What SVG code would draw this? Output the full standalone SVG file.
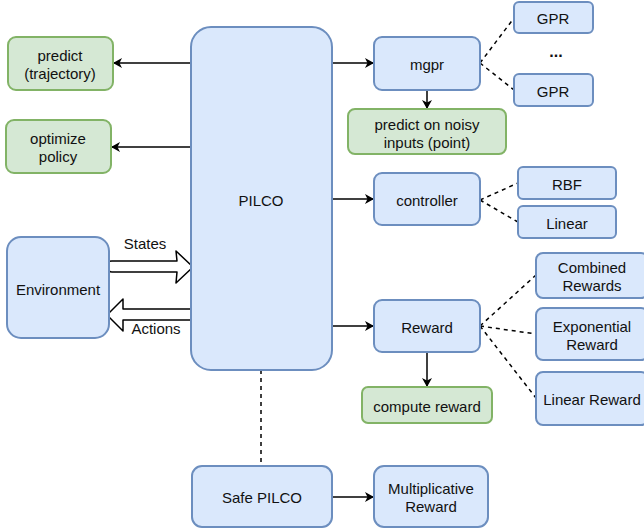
<svg xmlns="http://www.w3.org/2000/svg" width="644" height="530" viewBox="0 0 644 530">
<style>
.b{fill:#dae8fc;stroke:#6c8ebf;stroke-width:2}
.g{fill:#d5e8d4;stroke:#82b366;stroke-width:2}
text{font-family:"Liberation Sans",Arial,sans-serif;font-size:15px;fill:#111;text-anchor:middle;dominant-baseline:central}
.c{stroke:#000;stroke-width:1.5;fill:none}
.d{stroke:#000;stroke-width:1.5;fill:none;stroke-dasharray:4 4}
.fa{fill:#fff;stroke:#000;stroke-width:1.5;stroke-linejoin:round}
</style>
<defs>
<marker id="ah" markerWidth="10" markerHeight="10" refX="8" refY="5" orient="auto" markerUnits="userSpaceOnUse">
<path d="M0,0 L9,5 L0,10 L2.5,5 Z" fill="#000"/>
</marker>
</defs>
<g id="connectors">
<line class="c" x1="191" y1="63" x2="114" y2="63" marker-end="url(#ah)"/>
<line class="c" x1="191" y1="147" x2="112" y2="147" marker-end="url(#ah)"/>
<line class="c" x1="332" y1="63" x2="373" y2="63" marker-end="url(#ah)"/>
<line class="c" x1="332" y1="199" x2="373" y2="199" marker-end="url(#ah)"/>
<line class="c" x1="332" y1="326" x2="373" y2="326" marker-end="url(#ah)"/>
<line class="c" x1="427" y1="90" x2="427" y2="108" marker-end="url(#ah)"/>
<line class="c" x1="427" y1="352" x2="427" y2="386" marker-end="url(#ah)"/>
<line class="c" x1="332" y1="497" x2="373" y2="497" marker-end="url(#ah)"/>
<line class="d" x1="261" y1="370" x2="261" y2="466"/>
<line class="d" x1="480" y1="63" x2="514" y2="18"/>
<line class="d" x1="480" y1="63" x2="514" y2="90"/>
<line class="d" x1="480" y1="200" x2="518" y2="183"/>
<line class="d" x1="480" y1="200" x2="518" y2="222"/>
<line class="d" x1="480" y1="326" x2="536" y2="275"/>
<line class="d" x1="480" y1="326" x2="536" y2="334"/>
<line class="d" x1="480" y1="326" x2="536" y2="398"/>
<path class="fa" d="M109,262 Q108,261 112,261 L177,261 L176,251 L193,267 L176,283 L177,272 L112,272 Q108,272 109,268 Z"/>
<path class="fa" d="M192,309 L123,309 L123,299 L107,315 L123,331 L123,320 L192,320 Z"/>
<text x="145" y="243">States</text>
<text x="156" y="328">Actions</text>
</g>
<g id="pilco"><rect class="b" x="191" y="27" width="141" height="343" rx="20"/><text x="261" y="200">PILCO</text></g>
<g id="predict"><rect class="g" x="8" y="37" width="105" height="53" rx="8"/><text x="60" y="55">predict</text><text x="60" y="73">(trajectory)</text></g>
<g id="optimize"><rect class="g" x="6" y="120" width="105" height="53" rx="8"/><text x="58" y="138">optimize</text><text x="58" y="156">policy</text></g>
<g id="environment"><rect class="b" x="7" y="237" width="102" height="101" rx="14"/><text x="58" y="289">Environment</text></g>
<g id="mgpr"><rect class="b" x="374" y="37" width="106" height="53" rx="8"/><text x="427" y="64">mgpr</text></g>
<g id="gpr1"><rect class="b" x="514" y="2" width="79" height="31" rx="5"/><text x="553" y="18">GPR</text></g>
<g id="dots"><text x="556" y="51" style="font-weight:bold;font-size:16px">...</text></g>
<g id="gpr2"><rect class="b" x="514" y="74" width="79" height="32" rx="5"/><text x="553" y="91">GPR</text></g>
<g id="noisy"><rect class="g" x="348" y="109" width="158" height="45" rx="7"/><text x="427" y="124">predict on noisy</text><text x="427" y="142">inputs (point)</text></g>
<g id="controller"><rect class="b" x="374" y="173" width="106" height="52" rx="8"/><text x="427" y="200">controller</text></g>
<g id="rbf"><rect class="b" x="518" y="167" width="98" height="32" rx="5"/><text x="567" y="184">RBF</text></g>
<g id="linear"><rect class="b" x="518" y="206" width="98" height="32" rx="5"/><text x="567" y="223">Linear</text></g>
<g id="reward"><rect class="b" x="374" y="300" width="106" height="52" rx="8"/><text x="427" y="327">Reward</text></g>
<g id="combined"><rect class="b" x="536" y="253" width="112" height="45" rx="7"/><text x="592" y="267">Combined</text><text x="592" y="285">Rewards</text></g>
<g id="exponential"><rect class="b" x="536" y="308" width="112" height="52" rx="7"/><text x="592" y="326">Exponential</text><text x="592" y="344">Reward</text></g>
<g id="linearreward"><rect class="b" x="536" y="372" width="112" height="53" rx="7"/><text x="592" y="399">Linear Reward</text></g>
<g id="compute"><rect class="g" x="362" y="387" width="130" height="36" rx="6"/><text x="427" y="406">compute reward</text></g>
<g id="safepilco"><rect class="b" x="192" y="466" width="140" height="61" rx="10"/><text x="262" y="497">Safe PILCO</text></g>
<g id="multiplicative"><rect class="b" x="374" y="466" width="114" height="61" rx="10"/><text x="431" y="488">Multiplicative</text><text x="431" y="506">Reward</text></g>
</svg>
